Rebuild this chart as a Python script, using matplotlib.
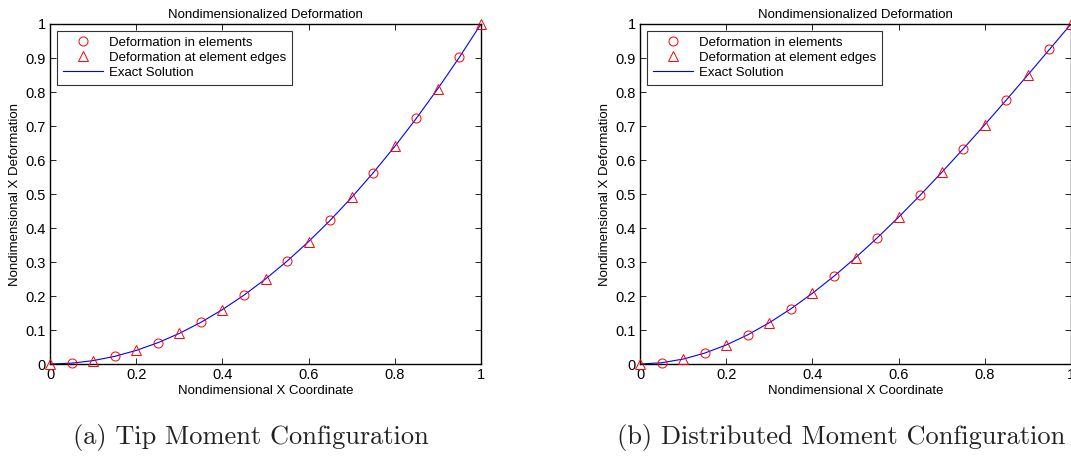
import matplotlib
matplotlib.use('Agg')
import matplotlib.pyplot as plt
import numpy as np

plt.rcParams['font.family'] = ['Liberation Sans', 'DejaVu Sans']

# element centres and element edges
x_elem = [0.05, 0.15, 0.25, 0.35, 0.45, 0.55, 0.65, 0.75, 0.85, 0.95]
x_edge = [0.0, 0.1, 0.2, 0.3, 0.4, 0.5, 0.6, 0.7, 0.8, 0.9, 1.0]
x_exact = [0.0, 0.05, 0.1, 0.15, 0.2, 0.25, 0.3, 0.35, 0.4, 0.45, 0.5,
           0.55, 0.6, 0.65, 0.7, 0.75, 0.8, 0.85, 0.9, 0.95, 1.0]

# (a) tip moment
tip_elem = [0.0025, 0.0225, 0.0625, 0.1225, 0.2025, 0.3025, 0.4225, 0.5625, 0.7225, 0.9025]
tip_edge = [0.0, 0.01, 0.04, 0.09, 0.16, 0.25, 0.36, 0.49, 0.64, 0.81, 1.0]
tip_exact = [0.0, 0.0025, 0.01, 0.0225, 0.04, 0.0625, 0.09, 0.1225, 0.16, 0.2025, 0.25,
             0.3025, 0.36, 0.4225, 0.49, 0.5625, 0.64, 0.7225, 0.81, 0.9025, 1.0]

# (b) distributed moment
dist_elem = [0.0037, 0.0321, 0.0859, 0.1623, 0.2582, 0.3706, 0.4964, 0.6328, 0.7767, 0.9251]
dist_edge = [0.0, 0.0145, 0.056, 0.1215, 0.208, 0.3125, 0.432, 0.5635, 0.704, 0.8505, 1.0]
dist_exact = [0.0, 0.0037, 0.0145, 0.0321, 0.056, 0.0859, 0.1215, 0.1623, 0.208, 0.2582, 0.3125,
              0.3706, 0.432, 0.4964, 0.5635, 0.6328, 0.704, 0.7767, 0.8505, 0.9251, 1.0]

captions = ['(a) Tip Moment Configuration', '(b) Distributed Moment Configuration']

fig = plt.figure(figsize=(10.71, 4.58), dpi=100)
ax1 = fig.add_axes([0.0467, 0.2052, 0.4024, 0.7424])
ax2 = fig.add_axes([0.5976, 0.2052, 0.4024, 0.7424])


def panel(ax, elem, edge, exact):
    ax.plot(x_elem, elem, 'o', mfc='none', mec='red', ms=6.5, mew=0.7,
            clip_on=False, label='Deformation in elements', zorder=3)
    ax.plot(x_edge, edge, '^', mfc='none', mec='red', ms=7, mew=0.7,
            clip_on=False, label='Deformation at element edges', zorder=3)
    ax.plot(x_exact, exact, '-', color='blue', lw=0.8, label='Exact Solution', zorder=2)
    ax.set_xlim(0, 1)
    ax.set_ylim(0, 1)
    ax.set_xticks(np.linspace(0, 1, 6))
    ax.set_xticklabels(['0', '0.2', '0.4', '0.6', '0.8', '1'])
    ax.set_yticks(np.linspace(0, 1, 11))
    ax.set_yticklabels(['0', '0.1', '0.2', '0.3', '0.4', '0.5', '0.6', '0.7', '0.8', '0.9', '1'])
    ax.tick_params(direction='in', top=True, right=True, length=4, width=0.6,
                   labelsize=10.5, pad=3)
    for s in ax.spines.values():
        s.set_linewidth(1.0)
    ax.set_title('Nondimensionalized Deformation', fontsize=9.5, pad=4)
    ax.set_xlabel('Nondimensional X Coordinate', fontsize=9.5, labelpad=2)
    ax.set_ylabel('Nondimensional X Deformation', fontsize=9.5, labelpad=3)
    leg = ax.legend(loc='upper left', fontsize=9.5, frameon=True, fancybox=False,
                    edgecolor='black', borderpad=0.45, labelspacing=0.22,
                    handlelength=3.1, handletextpad=0.4, borderaxespad=0.5)
    leg.get_frame().set_linewidth(0.8)


panel(ax1, tip_elem, tip_edge, tip_exact)
panel(ax2, dist_elem, dist_edge, dist_exact)

fig.text(0.234, 0.045, captions[0], fontname='cmr10', fontsize=19, ha='center', va='center', color='#222222')
fig.text(0.785, 0.045, captions[1], fontname='cmr10', fontsize=19, ha='center', va='center', color='#222222')

fig.savefig('out.png', dpi=100)
